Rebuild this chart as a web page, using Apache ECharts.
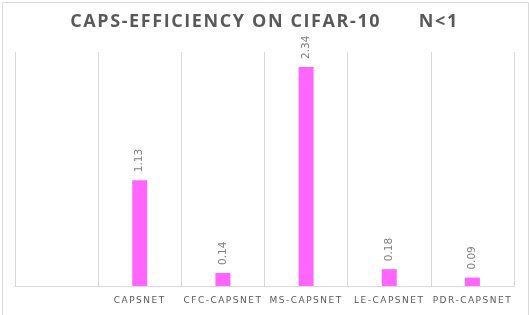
<!DOCTYPE html>
<html><head><meta charset="utf-8">
<script src="https://cdn.jsdelivr.net/npm/echarts@6/dist/echarts.min.js"></script>
<style>html,body{margin:0;padding:0;background:#fff}#c{width:529px;height:315px}</style>
</head><body><div id="c"></div>
<script>
const titleText = 'CAPS-EFFICIENCY ON CIFAR-10      N<1';
const categories = ['', 'CAPSNET', 'CFC-CAPSNET', 'MS-CAPSNET', 'LE-CAPSNET', 'PDR-CAPSNET'];
const values = [null, 1.13, 0.14, 2.34, 0.18, 0.09];
const yMax = 2.5;

// letter spacing for title and category labels (ECharts has no letterSpacing option)
(function () {
  const proto = CanvasRenderingContext2D.prototype;
  const orig = proto.fillText;
  proto.fillText = function (t, x, y, w) {
    const f = this.font || '';
    if (/bold/.test(f) && /18px/.test(f)) this.letterSpacing = '1.6px';
    else if (/\b9px/.test(f)) this.letterSpacing = '1.5px';
    else this.letterSpacing = '0px';
    return w === undefined ? orig.call(this, t, x, y) : orig.call(this, t, x, y, w);
  };
})();

const chart = echarts.init(document.getElementById('c'), null, {renderer: 'canvas'});
chart.setOption({
  backgroundColor: '#fff',
  animation: false,
  title: {
    text: titleText, left: 'center', top: 8,
    textStyle: {fontFamily: 'Open Sans', fontWeight: 'bold', fontSize: 18, color: '#595959'}
  },
  graphic: [{type: 'rect', left: 0, top: 0, shape: {x: 0.5, y: 0.5, width: 526, height: 313}, style: {fill: 'none', stroke: '#d9d9d9', lineWidth: 1}}],
  grid: {left: 15, right: 15, top: 52, bottom: 29, containLabel: false},
  xAxis: {
    type: 'category', data: categories,
    axisLine: {lineStyle: {color: '#d9d9d9'}},
    axisTick: {show: false},
    splitLine: {show: true, lineStyle: {color: '#d9d9d9'}},
    axisLabel: {color: '#595959', fontSize: 9, fontFamily: 'DejaVu Sans', margin: 10, interval: 0}
  },
  yAxis: {
    type: 'value', min: 0, max: yMax, show: false, splitLine: {show: false}
  },
  series: [{
    type: 'bar', data: values, barWidth: 15,
    itemStyle: {color: '#ff66ff'},
    label: {
      show: true, position: 'top', rotate: 90, align: 'left', verticalAlign: 'middle',
      distance: 8, color: '#7f7f7f', fontSize: 10.5, fontFamily: 'DejaVu Sans',
      formatter: p => p.value == null ? '' : p.value.toFixed(2)
    }
  }]
});
</script></body></html>
